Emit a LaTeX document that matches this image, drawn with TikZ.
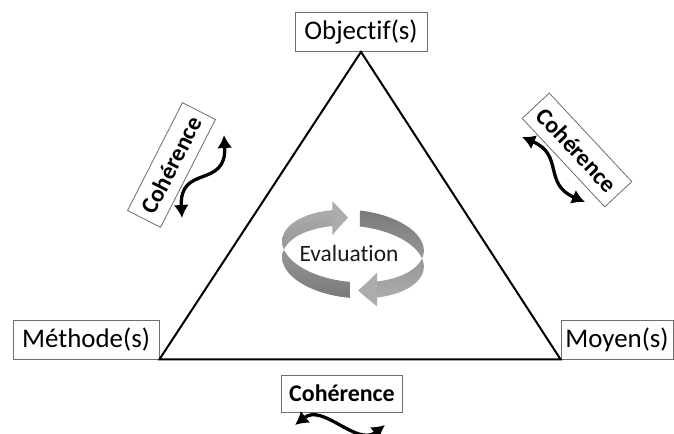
\documentclass[tikz,border=0pt]{standalone}
\usepackage{fontspec}
\setmainfont{Carlito}[Ligatures=NoCommon]
\usetikzlibrary{arrows.meta}
\definecolor{boxgray}{RGB}{110,110,110}
\definecolor{ringdark}{RGB}{122,122,122}
\definecolor{ringmid}{RGB}{148,148,148}
\definecolor{ringlight}{RGB}{172,172,172}
\definecolor{inktext}{RGB}{25,25,25}

\begin{document}
\begin{tikzpicture}[x=1bp, y=-1bp,
  declare function={
    ex(\t)=353+71*cos(\t)*cos(5)-36*sin(\t)*sin(5);
    ey(\t)=254+71*cos(\t)*sin(5)+36*sin(\t)*cos(5);
  },
  labelbox/.style={draw=boxgray, line width=0.8bp, fill=white, inner sep=0pt,
    minimum height=39bp, text=black, font=\fontsize{27}{32}\selectfont},
  linkbox/.style={draw=boxgray, line width=0.8bp, fill=white, inner sep=0pt,
    minimum width=121bp, minimum height=37bp, text=black,
    font=\bfseries\fontsize{24}{29}\selectfont},
  wave/.style={line width=3.3bp, line cap=round,
    {Latex[length=13bp,width=15bp]}-{Latex[length=13bp,width=15bp]}},
  side/.style={line width=2bp, line join=miter}
]
\useasboundingbox (0,0) rectangle (674,434);
\fill[white] (0,0) rectangle (674,434);

% corner labels
\node[labelbox, minimum width=132bp] (obj)  at (361,32)    {Objectif(s)};
\node[labelbox, minimum width=146bp] (meth) at (86,339.5)  {Méthode(s)};
\node[labelbox, minimum width=112bp] (moy)  at (617,339.5) {Moyen(s)};

% the triangle
\draw[side] (obj.south) -- (meth.south east) -- (moy.south west) -- cycle;

% coherence labels on each side
\node[linkbox, rotate=63]  (cohL) at (171.5,165) {Cohérence};
\node[linkbox, rotate=-47] (cohR) at (577,150)   {Cohérence};
\node[linkbox]             (cohB) at (342,393.5) {Cohérence};

% wavy double arrows
\coordinate (wLa) at (224,135);
\coordinate (wLb) at (182,218);
\coordinate (wRa) at (522,137);
\coordinate (wRb) at (585,202);
\coordinate (wBa) at (295,425);
\coordinate (wBb) at (385,425);
\draw[wave] (wLa) .. controls +(3,54) and +(-3,-54) .. (wLb);
\draw[wave] (wRa) .. controls +(42,18) and +(-42,-18) .. (wRb);
\draw[wave] (wBa) .. controls +(28,-22) and +(-28,22) .. (wBb);

% evaluation ring: left arrow (bottom -> left -> top)
\shade[top color=ringlight, bottom color=ringdark, middle color=ringmid]
  plot[domain=90:251, samples=80] ({ex(\x)},{ey(\x)-8})
  -- plot[domain=251:90, samples=80] ({ex(\x)},{ey(\x)+8})
  -- cycle;
\fill[ringlight]
  plot[domain=250.5:263.4, samples=10] ({ex(\x)},{ey(\x)-17*(263.4-\x)/12.9})
  -- plot[domain=263.4:250.5, samples=10] ({ex(\x)},{ey(\x)+17*(263.4-\x)/12.9})
  -- cycle;
% right arrow (top -> right -> bottom)
\shade[top color=ringdark, bottom color=ringlight, middle color=ringmid]
  plot[domain=273:428, samples=80] ({ex(\x)},{ey(\x)-8})
  -- plot[domain=428:273, samples=80] ({ex(\x)},{ey(\x)+8})
  -- cycle;
\fill[ringlight]
  plot[domain=67.5:83.4, samples=10] ({ex(\x)},{ey(\x)-17*(83.4-\x)/15.9})
  -- plot[domain=83.4:67.5, samples=10] ({ex(\x)},{ey(\x)+17*(83.4-\x)/15.9})
  -- cycle;

\node[text=inktext, font=\fontsize{23.5}{28}\selectfont] (eval) at (349,253) {Evaluation};
\end{tikzpicture}
\end{document}
